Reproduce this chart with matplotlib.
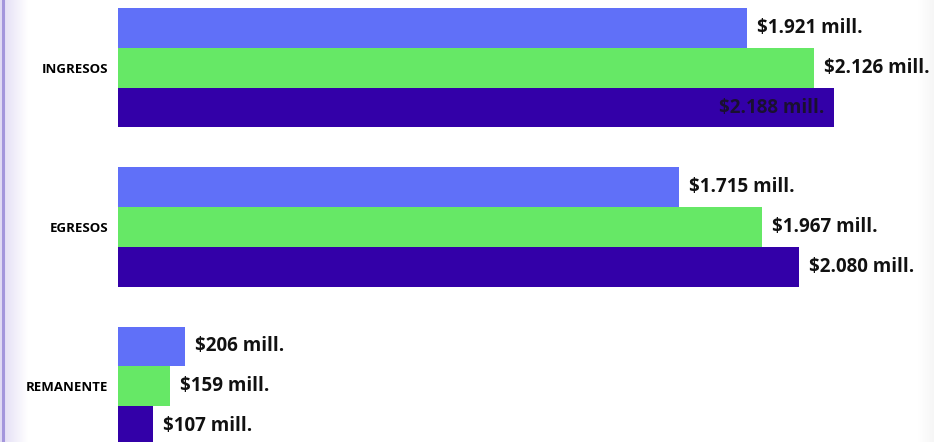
#!/usr/bin/env python3
"""
Barras horizontales: ingresos, egresos y remanente (tres series).
Salva la figura como out.png.
"""

import numpy as np
import matplotlib.pyplot as plt

# Datos
categorias = ["INGRESOS", "EGRESOS", "REMANENTE"]
serie_1 = [1921, 1715, 206]
serie_2 = [2126, 1967, 159]
serie_3 = [2188, 2080, 107]
etiquetas_1 = ["$1.921 mill.", "$1.715 mill.", "$206 mill."]
etiquetas_2 = ["$2.126 mill.", "$1.967 mill.", "$159 mill."]
etiquetas_3 = ["$2.188 mill.", "$2.080 mill.", "$107 mill."]

colores = ["#6070f8", "#66e866", "#3300a8"]
fuente = ["Open Sans", "DejaVu Sans"]

fig = plt.figure(figsize=(9.34, 4.42), dpi=100)
fig.patch.set_facecolor("white")

# Borde izquierdo con degradado lila
grad = fig.add_axes([0, 0, 28 / 934, 1])
g = np.linspace(0, 1, 100)[None, :]
grad.imshow(g, aspect="auto", cmap=plt.matplotlib.colors.LinearSegmentedColormap.from_list(
    "lila", ["#e0daf4", "#ffffff"]), extent=[0, 1, 0, 1])
grad.axvline(0.09, color="#a496dc", lw=2.2)
grad.axis("off")

# Sombra gris a la derecha
sombra = fig.add_axes([918 / 934, 0, 16 / 934, 1])
sombra.imshow(g, aspect="auto", cmap=plt.matplotlib.colors.LinearSegmentedColormap.from_list(
    "gris", ["#ffffff", "#f6f6f6"]), extent=[0, 1, 0, 1])
sombra.axis("off")

ax = fig.add_axes([118 / 934, 0, 1 - 118 / 934, 1])
ax.set_facecolor("none")

y = np.arange(len(categorias))
alto = 0.25
series = [serie_1, serie_2, serie_3]
etiquetas = [etiquetas_1, etiquetas_2, etiquetas_3]
maximo = max(max(s) for s in series)
for i, (vals, labs) in enumerate(zip(series, etiquetas)):
    pos = y + (i - 1) * alto
    ax.barh(pos, vals, height=alto, color=colores[i], edgecolor="none")
    for p, v, t in zip(pos, vals, labs):
        if v == maximo:
            # etiqueta dentro de la barra
            ax.text(v - 30, p, t, ha="right", va="center", fontsize=13.5,
                    fontweight="bold", color="#1a1030", family=fuente)
        else:
            ax.text(v + 30, p, t, ha="left", va="center", fontsize=13.5,
                    fontweight="bold", color="#111111", family=fuente)

ax.set_xlim(0, 816 / 0.3274)
ax.set_ylim(2.35, -0.425)
ax.set_yticks(y)
ax.set_yticklabels(categorias, fontsize=9.5, fontweight="bold", family=fuente)
ax.tick_params(axis="y", length=0, pad=7)
ax.set_xticks([])
for s in ax.spines.values():
    s.set_visible(False)

plt.savefig("out.png", dpi=100)
plt.close()
